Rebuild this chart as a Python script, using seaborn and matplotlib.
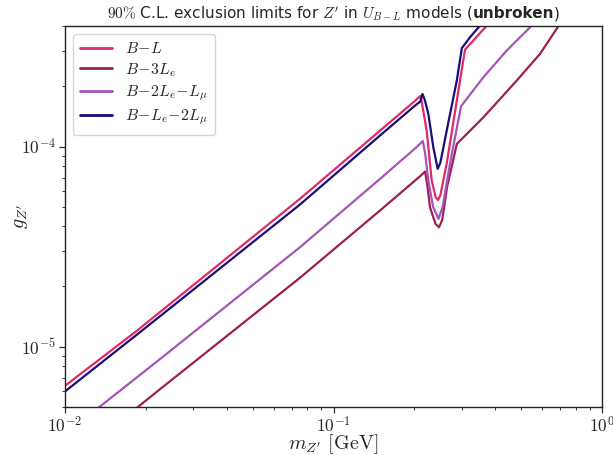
import matplotlib
matplotlib.use("Agg")
import matplotlib.pyplot as plt
from matplotlib.ticker import FuncFormatter
import seaborn as sns
import pandas as pd
import numpy as np

# ---- data ----
labels = [r"$B\!-\!L$", r"$B\!-\!3L_e$", r"$B\!-\!2L_e\!-\!L_\mu$", r"$B\!-\!L_e\!-\!2L_\mu$"]
colors = ["#dc2a6b", "#9e1f52", "#a655b6", "#1c0c7a"]

x_BL = [0.01, 0.0185, 0.075, 0.149, 0.200, 0.211, 0.2165, 0.2223, 0.2322, 0.2400, 0.2449,
        0.2500, 0.264, 0.296, 0.309, 0.3707, 0.42]
y_BL = [6.38e-6, 1.20e-5, 5.48e-5, 1.20e-4, 1.68e-4, 1.79e-4, 1.48e-4, 1.20e-4, 6.76e-5, 5.6e-5, 5.40e-5,
        5.7e-5, 8.22e-5, 2.14e-4, 3.05e-4, 3.99e-4, 4.72e-4]

x_B3Le = [0.0185, 0.0226, 0.075, 0.149, 0.210, 0.2193, 0.2240, 0.2288, 0.2400, 0.2471, 0.2540,
          0.265, 0.288, 0.3618, 0.482, 0.5886, 0.688, 0.80]
y_B3Le = [4.95e-6, 6.14e-6, 2.21e-5, 4.79e-5, 7.1e-5, 7.5e-5, 6.3e-5, 4.97e-5, 4.1e-5, 3.95e-5, 4.3e-5,
          6.3e-5, 1.031e-4, 1.40e-4, 2.14e-4, 2.91e-4, 3.99e-4, 5.1e-4]

x_B2LeLm = [0.0133, 0.0226, 0.075, 0.149, 0.205, 0.2153, 0.2200, 0.2255, 0.2350, 0.2460, 0.2550,
            0.2716, 0.2985, 0.3618, 0.442, 0.5447, 0.60]
y_B2LeLm = [4.95e-6, 8.68e-6, 3.14e-5, 6.89e-5, 1.0e-4, 1.065e-4, 9.0e-5, 6.76e-5, 5.0e-5, 4.35e-5, 5.0e-5,
            8.22e-5, 1.59e-4, 2.22e-4, 3.02e-4, 3.99e-4, 4.55e-4]

x_BLe2Lm = [0.01, 0.0193, 0.075, 0.149, 0.200, 0.2105, 0.2145, 0.2190, 0.2255, 0.2354, 0.2443,
            0.2500, 0.264, 0.288, 0.3006, 0.3228, 0.3497, 0.40]
y_BLe2Lm = [5.98e-6, 1.20e-5, 5.13e-5, 1.135e-4, 1.59e-4, 1.68e-4, 1.83e-4, 1.70e-4, 1.457e-4, 9.92e-5, 7.74e-5,
            8.3e-5, 1.20e-4, 2.14e-4, 3.10e-4, 3.52e-4, 3.99e-4, 4.95e-4]

xs = [x_BL, x_B3Le, x_B2LeLm, x_BLe2Lm]
ys = [y_BL, y_B3Le, y_B2LeLm, y_BLe2Lm]

frames = []
for lab, x, y in zip(labels, xs, ys):
    frames.append(pd.DataFrame({"m": x, "g": y, "model": lab}))
df = pd.concat(frames, ignore_index=True)

sns.set_style("white")
plt.rcParams["font.family"] = ["DejaVu Sans"]
plt.rcParams["mathtext.fontset"] = "cm"
plt.rcParams["axes.unicode_minus"] = True

fig = plt.figure(figsize=(6.13, 4.55), dpi=100)
ax = fig.add_axes([65 / 613, 1 - 407 / 455, (602 - 65) / 613, (407 - 26) / 455])

sns.lineplot(data=df, x="m", y="g", hue="model", hue_order=labels,
             palette=dict(zip(labels, colors)), estimator=None, sort=False,
             linewidth=1.6, ax=ax)

ax.set_xscale("log")
ax.set_yscale("log")
ax.set_xlim(1e-2, 1.0)
ax.set_ylim(5e-6, 4e-4)

fmt = FuncFormatter(lambda v, p: r"$10^{%d}$" % int(round(np.log10(v))))
ax.xaxis.set_major_formatter(fmt)
ax.yaxis.set_major_formatter(fmt)

ax.set_xlabel(r"$m_{Z'}\ [\mathrm{GeV}]$", fontsize=14.5)
ax.set_ylabel(r"$g_{Z'}$", fontsize=14.5)
ax.xaxis.label.set_va("baseline")
ax.xaxis.set_label_coords(0.5, (407 - 449) / 381)
ax.yaxis.label.set_va("center")
ax.yaxis.set_label_coords((21 - 65) / 537, 0.5)

ax.tick_params(axis="both", which="major", labelsize=12.5, length=4, width=0.9, pad=2.5,
               direction="out", bottom=True, left=True, color="#333333")
ax.tick_params(axis="both", which="minor", length=2.5, width=0.7,
               direction="out", bottom=True, left=True, color="#333333")
for s in ax.spines.values():
    s.set_color("#222222")
    s.set_linewidth(1.0)

leg = ax.legend(loc="upper left", fontsize=11.5, frameon=True, fancybox=True,
                framealpha=0.8, edgecolor="#cccccc", handlelength=2.0,
                borderpad=0.45, labelspacing=0.3, handletextpad=0.8)
for line in leg.get_lines():
    line.set_linewidth(2.0)

# ---- title in pieces (sans text, bold "unbroken") ----
ty = 1.02
fs = 11
t1 = ax.text(0, ty, r"$90\%$ C.L. exclusion limits for $Z'$ in $U_{B-L}$ models (",
             transform=ax.transAxes, fontsize=fs, va="baseline", ha="left")
t2 = ax.annotate("unbroken", xy=(1, ty), xycoords=(t1, "axes fraction"),
                 fontsize=fs, fontweight="bold", va="baseline", ha="left")
t3 = ax.annotate(")", xy=(1, ty), xycoords=(t2, "axes fraction"),
                 fontsize=fs, va="baseline", ha="left")
fig.canvas.draw()
r = fig.canvas.get_renderer()
b1 = t1.get_window_extent(r)
b3 = t3.get_window_extent(r)
total = b3.x1 - b1.x0
axb = ax.get_window_extent(r)
x0 = (axb.x0 + axb.x1) / 2 - total / 2
t1.set_x((x0 - axb.x0) / axb.width)

fig.savefig("out.png", dpi=100)
